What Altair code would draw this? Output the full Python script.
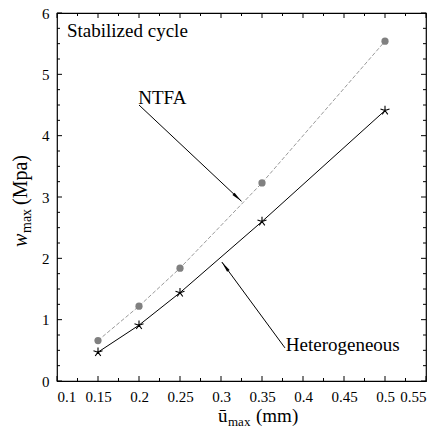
import math
import altair as alt
import pandas as pd

# Displacement amplitudes (mm) and maximum energy (Mpa)
u_max = [0.15, 0.2, 0.25, 0.35, 0.5]
w_ntfa = [0.66, 1.22, 1.84, 3.23, 5.54]
w_hetero = [0.47, 0.91, 1.44, 2.60, 4.41]

# Axis settings
x_domain = [0.1, 0.55]
y_domain = [0, 6]
x_major = [0.1, 0.15, 0.2, 0.25, 0.3, 0.35, 0.4, 0.45, 0.5, 0.55]
x_minor = [0.125, 0.175, 0.225, 0.275, 0.325, 0.375, 0.425, 0.475, 0.525]
y_major = [0, 1, 2, 3, 4, 5, 6]
y_minor = [0.25, 0.5, 0.75, 1.25, 1.5, 1.75, 2.25, 2.5, 2.75, 3.25, 3.5, 3.75,
           4.25, 4.5, 4.75, 5.25, 5.5, 5.75]

# Annotation labels and their arrows (data coordinates)
labels = ["NTFA", "Heterogeneous"]
label_x = [0.199, 0.379]
label_y = [4.52, 0.49]
arrow_x0 = [0.2, 0.378]
arrow_y0 = [4.5, 0.54]
arrow_x1 = [0.325, 0.301]
arrow_y1 = [2.93, 1.94]

W, H = 369, 368
FONT = "Liberation Serif"

xs = alt.Scale(domain=x_domain, nice=False, zero=False)
ys = alt.Scale(domain=y_domain, nice=False, zero=False)

df = pd.DataFrame({"u": u_max, "ntfa": w_ntfa, "het": w_hetero})

x_axis = alt.Axis(values=x_major, format="~g", ticks=False, domain=False, grid=False,
                  labelFont=FONT, labelFontSize=15, labelColor="black", labelPadding=8,
                  title=None)
y_axis = alt.Axis(values=y_major, format="d", ticks=False, domain=False, grid=False,
                  labelFont=FONT, labelFontSize=15, labelColor="black", labelPadding=8,
                  title=None)

base = alt.Chart(df)

ntfa_line = base.mark_line(color="#9a9a9a", strokeWidth=1, strokeDash=[4, 2]).encode(
    x=alt.X("u:Q", scale=xs, axis=x_axis),
    y=alt.Y("ntfa:Q", scale=ys, axis=y_axis),
)
ntfa_pts = base.mark_point(shape="circle", filled=True, color="#808080", size=52, opacity=1).encode(
    x=alt.X("u:Q", scale=xs), y=alt.Y("ntfa:Q", scale=ys)
)

het_line = base.mark_line(color="black", strokeWidth=1).encode(
    x=alt.X("u:Q", scale=xs), y=alt.Y("het:Q", scale=ys)
)
STAR = ("M0,-1L0,0M0,0L0.951,-0.309M0,0L0.588,0.809"
        "M0,0L-0.588,0.809M0,0L-0.951,-0.309")
het_pts = base.mark_point(shape=STAR, filled=False, color="black", strokeWidth=1.1,
                          size=90, opacity=1).encode(
    x=alt.X("u:Q", scale=xs), y=alt.Y("het:Q", scale=ys)
)

# Inward ticks on all four sides
def hticks(values, length, top):
    d = pd.DataFrame({"v": values})
    if top:
        y0, y1 = 0, length
    else:
        y0, y1 = H, H - length
    return alt.Chart(d).mark_rule(color="black", strokeWidth=1).encode(
        x=alt.X("v:Q", scale=xs), y=alt.value(y0), y2=alt.value(y1)
    )

def vticks(values, length, right):
    d = pd.DataFrame({"v": values})
    if right:
        x0, x1 = W, W - length
    else:
        x0, x1 = 0, length
    return alt.Chart(d).mark_rule(color="black", strokeWidth=1).encode(
        y=alt.Y("v:Q", scale=ys), x=alt.value(x0), x2=alt.value(x1)
    )

ticks = [
    hticks(x_major, 5, False), hticks(x_minor, 3, False),
    hticks(x_major, 5, True), hticks(x_minor, 3, True),
    vticks(y_major, 5, False), vticks(y_minor, 3, False),
    vticks(y_major, 5, True), vticks(y_minor, 3, True),
]

# Arrows: shaft plus a narrow filled head
px_x = W / (x_domain[1] - x_domain[0])
px_y = H / (y_domain[1] - y_domain[0])
head_len = 11
heads = []
for x0, y0, x1, y1 in zip(arrow_x0, arrow_y0, arrow_x1, arrow_y1):
    dx = (x1 - x0) * px_x
    dy = -(y1 - y0) * px_y
    n = math.hypot(dx, dy)
    ang = math.degrees(math.atan2(dx, -dy)) % 360
    cx = x1 - (dx / n) * head_len / 2 / px_x
    cy = y1 + (dy / n) * head_len / 2 / px_y
    heads.append({"x": cx, "y": cy, "ang": ang})
heads_df = pd.DataFrame(heads)

arrows_df = pd.DataFrame({"x0": arrow_x0, "y0": arrow_y0, "x1": arrow_x1, "y1": arrow_y1})
shafts = alt.Chart(arrows_df).mark_rule(color="black", strokeWidth=1).encode(
    x=alt.X("x0:Q", scale=xs), y=alt.Y("y0:Q", scale=ys),
    x2="x1:Q", y2="y1:Q",
)
HEAD = "M0,-1L0.28,1L-0.28,1Z"
head_marks = alt.Chart(heads_df).mark_point(shape=HEAD, filled=True, color="black",
                                            size=head_len * head_len, opacity=1).encode(
    x=alt.X("x:Q", scale=xs), y=alt.Y("y:Q", scale=ys), angle=alt.Angle("ang:Q", scale=None)
)

label_df = pd.DataFrame({"t": labels, "x": label_x, "y": label_y})
label_marks = alt.Chart(label_df).mark_text(font=FONT, fontSize=19, align="left",
                                            baseline="alphabetic", color="black").encode(
    x=alt.X("x:Q", scale=xs), y=alt.Y("y:Q", scale=ys), text="t:N"
)

stab = alt.Chart(pd.DataFrame({"t": ["Stabilized cycle"]})).mark_text(
    font=FONT, fontSize=19, align="left", baseline="alphabetic", color="black"
).encode(x=alt.value(10), y=alt.value(24), text="t:N")

# Axis titles with subscripts
def txt(s, x, y, size, angle=0, italic=False, align="left"):
    kw = dict(font=FONT, fontSize=size, align=align, baseline="alphabetic", color="black")
    if angle:
        kw["angle"] = angle
    if italic:
        kw["fontStyle"] = "italic"
    return alt.Chart(pd.DataFrame({"t": [s]})).mark_text(**kw).encode(
        x=alt.value(x), y=alt.value(y), text="t:N"
    )

xt = [
    txt("ū", 161, 409, 19),
    txt("max", 171, 413, 13),
    txt("(mm)", 199, 409, 19),
]
yt = [
    txt("w", -30, 234, 20, angle=270, italic=True),
    txt("max", -26, 220, 14, angle=270),
    txt("(Mpa)", -30, 192, 20, angle=270),
]

chart = alt.layer(
    ntfa_line, het_line, ntfa_pts, het_pts, *ticks, shafts, head_marks,
    label_marks, stab, *xt, *yt,
).properties(
    width=W, height=H,
    autosize=alt.AutoSizeParams(type="none"),
    padding={"left": 57, "top": 13, "right": 13, "bottom": 54},
).configure(
    font=FONT, background="white"
).configure_view(stroke="black", strokeWidth=1.2)

chart.save("out.html", embed_options={"renderer": "svg", "actions": False})
